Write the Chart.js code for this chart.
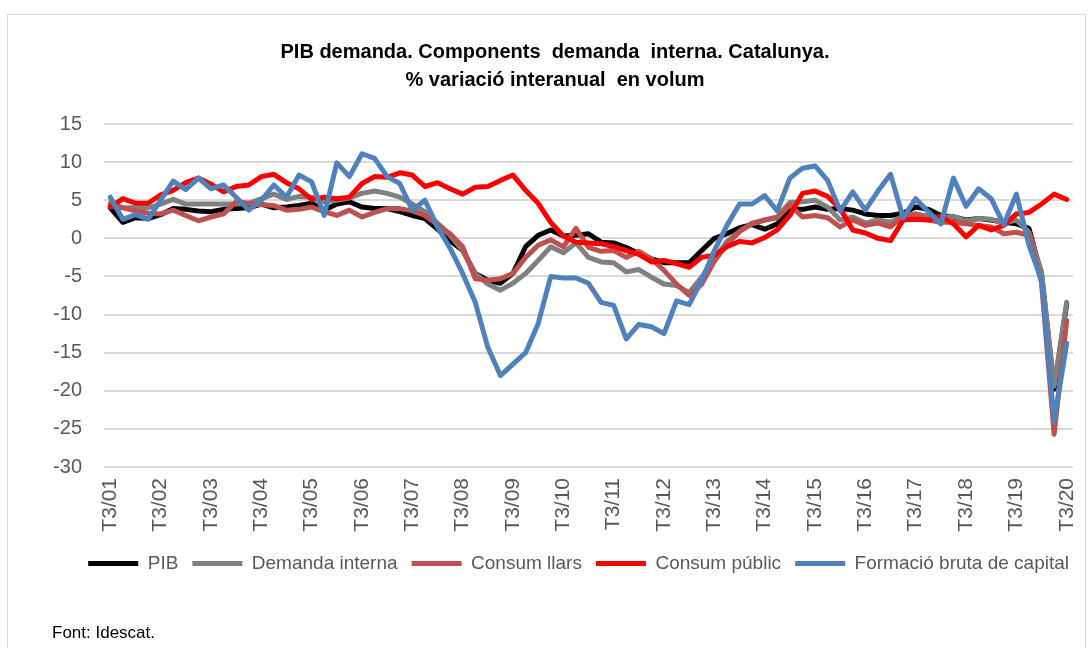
<!DOCTYPE html>
<html>
<head>
<meta charset="utf-8">
<script src="https://cdn.jsdelivr.net/npm/chart.js@4/dist/chart.umd.min.js"></script>
<style>
  body { margin: 0; background: #fff; }
  #wrap { position: relative; width: 1091px; height: 648px; overflow: hidden; }
  #frame { position: absolute; left: 7px; top: 14px; width: 1077px; height: 700px; border: 1px solid #d9d9d9; }
  #chart { position: absolute; left: 0; top: 0; }
  #source { position: absolute; left: 52px; top: 623px; font: 17px "Liberation Sans", Arial, sans-serif; color: #000; }
</style>
</head>
<body>
<div id="wrap">
  <div id="frame"></div>
  <canvas id="chart" width="1091" height="648"></canvas>
  <div id="source">Font: Idescat.</div>
</div>
<script>
// quarters T3/01 .. T3/20
const quarters = [
  'T3/01', 'T4/01',
  'T1/02', 'T2/02', 'T3/02', 'T4/02',
  'T1/03', 'T2/03', 'T3/03', 'T4/03',
  'T1/04', 'T2/04', 'T3/04', 'T4/04',
  'T1/05', 'T2/05', 'T3/05', 'T4/05',
  'T1/06', 'T2/06', 'T3/06', 'T4/06',
  'T1/07', 'T2/07', 'T3/07', 'T4/07',
  'T1/08', 'T2/08', 'T3/08', 'T4/08',
  'T1/09', 'T2/09', 'T3/09', 'T4/09',
  'T1/10', 'T2/10', 'T3/10', 'T4/10',
  'T1/11', 'T2/11', 'T3/11', 'T4/11',
  'T1/12', 'T2/12', 'T3/12', 'T4/12',
  'T1/13', 'T2/13', 'T3/13', 'T4/13',
  'T1/14', 'T2/14', 'T3/14', 'T4/14',
  'T1/15', 'T2/15', 'T3/15', 'T4/15',
  'T1/16', 'T2/16', 'T3/16', 'T4/16',
  'T1/17', 'T2/17', 'T3/17', 'T4/17',
  'T1/18', 'T2/18', 'T3/18', 'T4/18',
  'T1/19', 'T2/19', 'T3/19', 'T4/19',
  'T1/20', 'T2/20', 'T3/20'
];

const pib = [
  4.0, 2.1, 2.7, 2.6, 3.1, 3.9, 3.8, 3.6, 3.5, 3.8,
  3.9, 4.0, 4.5, 4.0, 4.1, 4.3, 4.6, 3.7, 4.5, 4.8,
  4.1, 3.9, 3.9, 3.5, 3.0, 2.6, 1.2, -0.3, -1.6, -4.6,
  -5.5, -5.9, -4.6, -1.1, 0.4, 1.1, 0.3, 0.4, 0.6, -0.5,
  -0.6, -1.2, -2.0, -2.7, -3.2, -3.2, -3.2, -1.6, 0.0, 0.6,
  1.4, 1.8, 1.2, 1.9, 3.8, 3.8, 4.1, 3.8, 3.9, 3.7,
  3.2, 3.0, 3.0, 3.3, 4.1, 3.8, 3.0, 2.8, 2.4, 2.6,
  2.4, 2.1, 1.9, 1.3, -4.8, -19.8, -8.6
];

const demandaInterna = [
  4.3, 4.0, 4.0, 4.0, 4.5, 5.1, 4.5, 4.5, 4.5, 4.5,
  4.5, 4.6, 5.2, 5.8, 5.1, 5.5, 5.4, 4.8, 5.0, 5.3,
  5.9, 6.2, 5.9, 5.4, 4.5, 3.5, 2.0, 0.4, -1.6, -4.6,
  -6.0, -6.8, -5.9, -4.6, -2.9, -1.1, -1.9, -0.6, -2.5, -3.1,
  -3.2, -4.4, -4.1, -5.1, -6.0, -6.2, -7.1, -5.1, -2.7, -0.4,
  0.9, 1.9, 2.4, 2.8, 4.7, 4.8, 5.0, 4.1, 2.4, 2.8,
  2.0, 2.4, 2.1, 2.9, 3.2, 2.9, 2.7, 2.9, 2.3, 2.6,
  2.5, 2.0, 2.4, 0.8, -4.4, -19.4, -8.4
];

const consumLlars = [
  4.6, 4.0, 3.6, 3.3, 3.2, 3.7, 3.0, 2.3, 2.8, 3.2,
  4.8, 4.6, 4.4, 4.3, 3.7, 3.8, 4.1, 3.5, 3.0, 3.7,
  2.8, 3.4, 3.9, 3.9, 3.6, 3.0, 1.8, 0.6, -1.1, -5.3,
  -5.5, -5.3, -4.6, -2.5, -0.9, -0.2, -1.1, 1.3, -1.2, -1.7,
  -1.6, -2.5, -1.7, -2.7, -4.2, -6.0, -7.5, -6.0, -3.0, -0.8,
  0.9, 2.0, 2.4, 2.7, 4.4, 2.8, 3.0, 2.7, 1.5, 2.4,
  1.7, 2.0, 1.5, 2.9, 3.2, 2.4, 2.1, 2.1, 1.9, 1.7,
  1.5, 0.6, 0.8, 0.4, -5.8, -25.7, -10.8
];

const consumPublic = [
  4.1, 5.2, 4.6, 4.6, 5.7, 6.3, 7.3, 7.9, 7.1, 6.1,
  6.8, 7.0, 8.1, 8.4, 7.3, 6.5, 5.1, 5.4, 5.2, 5.4,
  7.2, 8.1, 8.0, 8.6, 8.3, 6.8, 7.3, 6.5, 5.8, 6.7,
  6.8, 7.6, 8.3, 6.3, 4.6, 2.1, 0.3, -0.5, -0.6, -0.7,
  -1.1, -1.6, -2.1, -3.1, -2.9, -3.3, -3.8, -2.5, -2.2, -1.1,
  -0.4, -0.6, 0.1, 1.1, 3.0, 5.9, 6.2, 5.5, 3.9, 1.1,
  0.7, 0.0, -0.3, 2.4, 2.5, 2.4, 2.9, 1.9, 0.2, 1.7,
  1.1, 1.7, 3.2, 3.4, 4.5, 5.8, 5.1
];

const formacioCapital = [
  5.4, 2.5, 3.1, 2.5, 5.0, 7.5, 6.4, 7.9, 6.5, 7.0,
  5.4, 3.7, 5.0, 7.0, 5.4, 8.3, 7.4, 3.0, 9.9, 8.1,
  11.1, 10.5, 8.1, 7.2, 3.7, 5.0, 1.5, -1.3, -4.6, -8.4,
  -14.3, -18.0, -16.5, -15.0, -11.2, -5.0, -5.2, -5.2, -5.9, -8.4,
  -8.8, -13.2, -11.3, -11.6, -12.5, -8.2, -8.7, -5.5, -1.6, 1.7,
  4.5, 4.5, 5.6, 3.6, 7.9, 9.2, 9.5, 7.6, 3.6, 6.1,
  3.7, 6.2, 8.4, 2.7, 5.2, 3.5, 1.9, 7.9, 4.2, 6.5,
  5.2, 1.8, 5.8, -0.9, -5.5, -24.0, -13.8
];

const titleLines = ['PIB demanda. Components  demanda  interna. Catalunya.', '% variació interanual  en volum'];
const yTicks = [-30, -25, -20, -15, -10, -5, 0, 5, 10, 15];

const series = [
  { label: 'PIB', data: pib, color: '#000000' },
  { label: 'Demanda interna', data: demandaInterna, color: '#808080' },
  { label: 'Consum llars', data: consumLlars, color: '#C0504D' },
  { label: 'Consum públic', data: consumPublic, color: '#FF0000' },
  { label: 'Formació bruta de capital', data: formacioCapital, color: '#4F81BD' }
];

const FONT = '"Liberation Sans", Arial, sans-serif';

// title drawn by hand so it can sit off-centre like the original
const titlePlugin = {
  id: 'titleText',
  afterDraw(chart) {
    const ctx = chart.ctx;
    ctx.save();
    ctx.font = 'bold 20px ' + FONT;
    ctx.fillStyle = '#000';
    ctx.textAlign = 'center';
    ctx.textBaseline = 'middle';
    ctx.fillText(titleLines[0], 555, 52);
    ctx.fillText(titleLines[1], 555, 80);
    ctx.restore();
  }
};

// nudge the legend row a bit to the right (trailing item padding)
const legendShift = {
  id: 'legendShift',
  afterLayout(chart) {
    chart.legend.left += 10;
    chart.legend.right += 10;
  }
};

new Chart(document.getElementById('chart'), {
  type: 'line',
  data: {
    labels: quarters,
    datasets: series.map((s, i) => ({
      label: s.label,
      data: s.data,
      borderColor: s.color,
      backgroundColor: s.color,
      borderWidth: 5,
      pointRadius: 0,
      tension: 0,
      borderJoinStyle: 'round',
      borderCapStyle: 'round',
      order: series.length - i
    }))
  },
  options: {
    responsive: false,
    animation: false,
    devicePixelRatio: 1,
    layout: { padding: { top: 124, left: 45, right: 18, bottom: 65 } },
    scales: {
      x: {
        offset: true,
        grid: { display: false },
        border: { display: false },
        ticks: {
          autoSkip: false,
          maxRotation: 90,
          minRotation: 90,
          padding: 3,
          color: '#595959',
          font: { family: FONT, size: 21 },
          callback: function (val, idx) {
            return idx % 4 === 0 ? this.getLabelForValue(val) : '';
          }
        },
        afterFit: (scale) => {
          scale.height = 73;
          scale.paddingLeft = 0;
          scale.paddingRight = 0;
        }
      },
      y: {
        min: -30,
        max: 15,
        afterBuildTicks: (scale) => { scale.ticks = yTicks.map(v => ({ value: v })); },
        grid: { color: '#d9d9d9', lineWidth: 2, drawTicks: false },
        border: { display: false },
        ticks: {
          autoSkip: false,
          padding: 22,
          color: '#595959',
          font: { family: FONT, size: 20 }
        },
        afterFit: (scale) => { scale.width = 59; }
      }
    },
    plugins: {
      title: { display: false },
      tooltip: { enabled: false },
      legend: {
        position: 'bottom',
        align: 'end',
        labels: {
          usePointStyle: true,
          pointStyle: 'line',
          pointStyleWidth: 50,
          padding: 14,
          color: '#595959',
          font: { family: FONT, size: 19 },
          sort: (a, b) => a.datasetIndex - b.datasetIndex
        }
      }
    }
  },
  plugins: [titlePlugin, legendShift]
});
</script>
</body>
</html>
